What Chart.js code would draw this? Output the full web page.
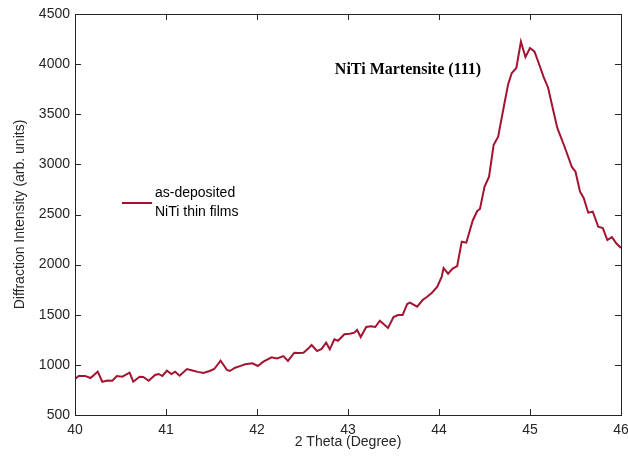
<!DOCTYPE html>
<html>
<head>
<meta charset="utf-8">
<script src="https://cdn.jsdelivr.net/npm/chart.js@4.4.1/dist/chart.umd.min.js"></script>
<style>
  html, body { margin: 0; padding: 0; background: #fff; }
  #wrap { width: 628px; height: 461px; }
</style>
</head>
<body>
<div id="wrap"><canvas id="myChart" width="628" height="461"></canvas></div>
<script>
// 2 theta positions (degree)
const twoTheta = [
  40.00, 40.04, 40.11, 40.17, 40.25, 40.30, 40.36, 40.41, 40.46, 40.52,
  40.60, 40.64, 40.71, 40.75, 40.81, 40.88, 40.92, 40.96, 41.01, 41.06,
  41.10, 41.15, 41.23, 41.30, 41.35, 41.41, 41.48, 41.53, 41.60, 41.67,
  41.70, 41.76, 41.82, 41.87, 41.95, 42.01, 42.07, 42.16, 42.22, 42.29,
  42.34, 42.41, 42.46, 42.51, 42.56, 42.60, 42.66, 42.71, 42.76, 42.80,
  42.85, 42.89, 42.96, 43.02, 43.07, 43.10, 43.14, 43.20, 43.25, 43.30,
  43.35, 43.44, 43.50, 43.55, 43.60, 43.65, 43.68, 43.76, 43.82, 43.87,
  43.92, 43.98, 44.03, 44.05, 44.10, 44.15, 44.20, 44.25, 44.30, 44.37,
  44.42, 44.45, 44.50, 44.55, 44.60, 44.65, 44.72, 44.76, 44.80, 44.85,
  44.90, 44.95, 45.00, 45.05, 45.11, 45.15, 45.20, 45.25, 45.30, 45.38,
  45.46, 45.50, 45.55, 45.59, 45.64, 45.69, 45.75, 45.80, 45.85, 45.90,
  45.95, 46.00
];
const intensity = [
  859, 890, 890, 869, 932, 832, 845, 842, 889, 882,
  922, 832, 882, 879, 842, 899, 909, 889, 942, 909,
  932, 892, 959, 942, 930, 919, 939, 959, 1042, 949,
  939, 972, 990, 1006, 1016, 989, 1032, 1075, 1065, 1088,
  1039, 1121, 1118, 1121, 1160, 1198, 1138, 1160, 1221, 1155,
  1255, 1241, 1305, 1310, 1321, 1348, 1278, 1378, 1385, 1378,
  1440, 1368, 1478, 1497, 1497, 1607, 1620, 1580, 1647, 1680,
  1717, 1777, 1880, 1966, 1910, 1960, 1986, 2229, 2219, 2438,
  2535, 2555, 2777, 2877, 3193, 3277, 3612, 3800, 3911, 3961,
  4224, 4071, 4161, 4124, 3974, 3870, 3762, 3560, 3363, 3176,
  2974, 2927, 2727, 2665, 2518, 2528, 2378, 2365, 2245, 2275,
  2210, 2166
];
const xTicks = [40, 41, 42, 43, 44, 45, 46];
const yTicks = [500, 1000, 1500, 2000, 2500, 3000, 3500, 4000, 4500];

const lineColor = '#a2142f';
const textColor = '#262626';
const axisColor = '#262626';
const sans = "'Liberation Sans', Arial, Helvetica, sans-serif";

const points = twoTheta.map((t, i) => ({ x: t, y: intensity[i] }));

// box around the plot with inward ticks on all four sides, plus titles and labels
const boxPlugin = {
  id: 'boxPlugin',
  afterDraw(c) {
    const ctx = c.ctx;
    const a = c.chartArea;
    const xs = c.scales.x, ys = c.scales.y;
    ctx.save();
    ctx.strokeStyle = axisColor;
    ctx.lineWidth = 1;
    ctx.strokeRect(a.left + 0.5, a.top + 0.5, a.right - a.left, a.bottom - a.top);
    ctx.beginPath();
    xTicks.forEach(v => {
      const px = Math.round(xs.getPixelForValue(v)) + 0.5;
      ctx.moveTo(px, a.bottom); ctx.lineTo(px, a.bottom - 6);
      ctx.moveTo(px, a.top); ctx.lineTo(px, a.top + 6);
    });
    yTicks.forEach(v => {
      const py = Math.round(ys.getPixelForValue(v)) + 0.5;
      ctx.moveTo(a.left, py); ctx.lineTo(a.left + 6, py);
      ctx.moveTo(a.right, py); ctx.lineTo(a.right - 6, py);
    });
    ctx.stroke();

    // axis titles
    ctx.fillStyle = textColor;
    ctx.font = '14px ' + sans;
    ctx.textAlign = 'center';
    ctx.textBaseline = 'middle';
    ctx.fillText('2 Theta (Degree)', (a.left + a.right) / 2, 442);
    ctx.save();
    ctx.translate(20, (a.top + a.bottom) / 2);
    ctx.rotate(-Math.PI / 2);
    ctx.fillText('Diffraction Intensity (arb. units)', 0, 0);
    ctx.restore();

    // peak label
    ctx.fillStyle = '#000';
    ctx.font = "bold 16px 'Liberation Serif', 'Times New Roman', serif";
    ctx.fillText('NiTi Martensite (111)', 408, 70);

    // legend
    ctx.strokeStyle = lineColor;
    ctx.lineWidth = 2;
    ctx.beginPath();
    ctx.moveTo(122, 203); ctx.lineTo(152, 203);
    ctx.stroke();
    ctx.fillStyle = '#000';
    ctx.font = '14px ' + sans;
    ctx.textAlign = 'left';
    ctx.fillText('as-deposited', 155, 193);
    ctx.fillText('NiTi thin films', 155, 212);
    ctx.restore();
  }
};

new Chart(document.getElementById('myChart'), {
  type: 'scatter',
  data: {
    datasets: [{
      label: 'as-deposited NiTi thin films',
      data: points,
      showLine: true,
      borderColor: lineColor,
      borderWidth: 2,
      pointRadius: 0,
      tension: 0,
      fill: false
    }]
  },
  options: {
    responsive: false,
    animation: false,
    layout: { padding: { left: 0, top: 14, right: 7, bottom: 0 } },
    plugins: { legend: { display: false }, tooltip: { enabled: false } },
    scales: {
      x: {
        type: 'linear',
        min: 40, max: 46,
        afterBuildTicks: s => { s.ticks = xTicks.map(v => ({ value: v })); },
        afterFit: s => { s.height = 46; s.paddingLeft = 0; s.paddingRight = 0; },
        grid: { display: false, drawTicks: false },
        border: { display: false },
        ticks: { color: textColor, font: { family: sans, size: 14 }, padding: 7, maxRotation: 0 }
      },
      y: {
        min: 500, max: 4500,
        afterBuildTicks: s => { s.ticks = yTicks.map(v => ({ value: v })); },
        afterFit: s => { s.width = 75; s.paddingTop = 0; s.paddingBottom = 0; },
        grid: { display: false, drawTicks: false },
        border: { display: false },
        ticks: { color: textColor, font: { family: sans, size: 14 }, padding: 5, callback: v => String(v) }
      }
    }
  },
  plugins: [boxPlugin]
});
</script>
</body>
</html>
